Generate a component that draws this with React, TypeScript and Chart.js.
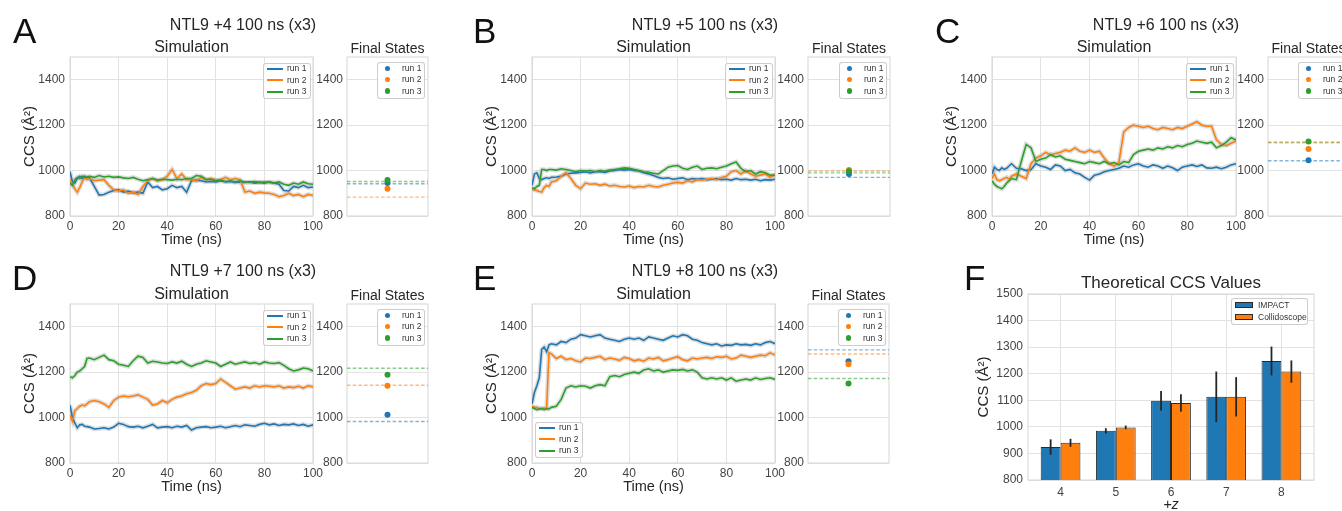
import React, { useEffect, useRef } from 'react';
import { Chart, registerables } from 'chart.js';

Chart.register(...registerables);

const FONT = '"Liberation Sans", Arial, Helvetica, sans-serif';
const TEXT = '#262626';
const TICK = '#444444';
const GRID = '#e2e2e2';
const FRAME = '#d6d6d6';
const RUN_COLORS = ['#1f77b4', '#ff7f0e', '#2ca02c'];
const RUN_LABELS = ['run 1', 'run 2', 'run 3'];

// time grid (ns)
const TIME = [0, 1, 2, 3, 4, 5, 6, 7, 8, 10, 12, 14, 16, 18, 20, 22, 24, 26, 28, 30, 32, 34, 36, 38, 40, 42, 44, 46, 48, 50, 52, 54, 56, 58, 60, 62, 64, 66, 68, 70, 72, 74, 76, 78, 80, 82, 84, 86, 88, 90, 92, 94, 96, 98, 100];

const SIM_X_TICKS = [0, 20, 40, 60, 80, 100];
const CCS_TICKS = [800, 1000, 1200, 1400];
const F_Y_TICKS = [800, 900, 1000, 1100, 1200, 1300, 1400, 1500];

// Panel A: NTL9 +4
const A_RUN1 = [995, 950, 945, 965, 975, 965, 975, 970, 968, 930, 892, 895, 905, 912, 915, 905, 910, 902, 905, 900, 950, 925, 930, 915, 920, 935, 925, 930, 905, 955, 958, 955, 950, 952, 950, 955, 950, 952, 948, 950, 948, 950, 945, 948, 945, 950, 945, 940, 912, 910, 930, 925, 935, 925, 928];
const A_RUN2 = [960, 940, 920, 905, 925, 950, 968, 960, 965, 955, 958, 960, 935, 915, 910, 915, 900, 905, 895, 930, 955, 965, 955, 960, 975, 1005, 965, 985, 960, 960, 955, 970, 960, 965, 958, 960, 970, 960, 965, 960, 905, 910, 900, 905, 902, 900, 895, 885, 890, 900, 890, 895, 885, 895, 890];
const A_RUN3 = [945, 935, 960, 970, 965, 975, 970, 972, 975, 970, 978, 972, 975, 970, 972, 968, 965, 970, 962, 955, 960, 965, 958, 962, 960, 958, 962, 960, 965, 965, 978, 975, 960, 962, 955, 958, 952, 955, 950, 955, 950, 948, 952, 948, 950, 948, 945, 950, 940, 935, 945, 940, 950, 942, 940];
const A_FINAL = [945, 920, 958];
const A_REF = [942, 883, 952];

// Panel B: NTL9 +5
const B_RUN1 = [935, 985, 990, 965, 960, 965, 968, 965, 970, 972, 975, 985, 988, 990, 992, 995, 990, 995, 995, 992, 998, 1000, 1005, 1002, 1005, 1000, 998, 990, 985, 978, 970, 965, 968, 962, 965, 968, 960, 965, 962, 965, 960, 962, 965, 960, 962, 958, 965, 960, 962, 958, 962, 955, 960, 958, 962];
const B_RUN2 = [920, 915, 912, 908, 905, 925, 935, 930, 950, 955, 975, 990, 965, 935, 920, 945, 940, 942, 935, 940, 932, 935, 930, 928, 932, 925, 930, 928, 935, 930, 928, 935, 940, 945, 948, 945, 955, 950, 960, 958, 962, 965, 960, 970, 975, 995, 1000, 985, 1000, 985, 975, 980, 985, 970, 985];
const B_RUN3 = [925, 920, 930, 935, 1005, 1005, 1000, 1005, 1005, 1002, 1008, 1005, 1000, 995, 1000, 998, 1000, 995, 1000, 998, 1002, 1005, 1008, 1012, 1010, 1005, 1000, 995, 992, 988, 985, 1000, 1015, 1020, 1022, 1010, 1005, 1015, 1020, 1005, 1010, 1012, 1008, 1015, 1020, 1030, 1038, 1010, 995, 1000, 985, 995, 990, 980, 978];
const B_FINAL = [985, 1002, 997];
const B_REF = [970, 998, 990];

// Panel C: NTL9 +6
const C_RUN1 = [985, 1015, 1005, 1000, 1012, 1005, 1010, 1020, 1030, 1010, 1008, 1000, 1005, 1030, 1020, 1015, 1005, 1025, 1020, 1000, 1005, 990, 985, 970, 958, 980, 985, 995, 1000, 1005, 1010, 1020, 1015, 1025, 1030, 1020, 1015, 1025, 1020, 1010, 1020, 1012, 1000, 1015, 1020, 1025, 1018, 1025, 1012, 1010, 1015, 1008, 1015, 1025, 1030];
const C_RUN2 = [965, 985, 960, 955, 960, 965, 970, 962, 975, 985, 975, 965, 1030, 1055, 1065, 1080, 1070, 1075, 1080, 1090, 1085, 1100, 1085, 1080, 1090, 1080, 1085, 1055, 1030, 1020, 1035, 1170, 1190, 1200, 1195, 1190, 1195, 1185, 1180, 1190, 1185, 1180, 1190, 1185, 1195, 1205, 1215, 1200, 1195, 1195, 1135, 1115, 1110, 1120, 1130];
const C_RUN3 = [955, 940, 930, 925, 920, 930, 945, 955, 965, 960, 1040, 1115, 1100, 1040, 1050, 1055, 1070, 1060, 1065, 1050, 1045, 1040, 1035, 1030, 1040, 1035, 1030, 1040, 1030, 1035, 1025, 1040, 1035, 1070, 1085, 1090, 1095, 1090, 1100, 1095, 1105, 1100, 1110, 1105, 1115, 1120, 1130, 1125, 1120, 1125, 1100, 1110, 1125, 1145, 1135];
const C_FINAL = [1045, 1095, 1128];
const C_REF = [1043, 1122, 1125];

// Panel D: NTL9 +7
const D_RUN1 = [1055, 1000, 975, 955, 968, 970, 962, 960, 958, 950, 952, 955, 950, 958, 975, 970, 960, 958, 962, 955, 962, 970, 955, 958, 960, 955, 962, 958, 965, 945, 955, 958, 960, 955, 958, 962, 955, 960, 965, 960, 968, 965, 962, 970, 975, 968, 972, 965, 970, 968, 972, 965, 970, 962, 968];
const D_RUN2 = [1010, 985, 1030, 1040, 1050, 1055, 1052, 1060, 1070, 1075, 1070, 1060, 1045, 1075, 1090, 1095, 1092, 1095, 1100, 1090, 1080, 1055, 1060, 1075, 1065, 1080, 1090, 1095, 1105, 1110, 1120, 1140, 1150, 1145, 1150, 1170, 1155, 1140, 1125, 1130, 1135, 1130, 1140, 1135, 1140, 1138, 1135, 1140, 1130, 1135, 1132, 1138, 1130, 1140, 1135];
const D_RUN3 = [1180, 1175, 1185, 1200, 1205, 1215, 1225, 1260, 1262, 1255, 1265, 1275, 1255, 1250, 1235, 1230, 1225, 1250, 1270, 1265, 1240, 1248, 1245, 1240, 1238, 1245, 1240, 1248, 1235, 1225, 1235, 1240, 1250, 1245, 1240, 1225, 1235, 1245, 1235, 1240, 1245, 1238, 1242, 1235, 1245, 1240, 1238, 1242, 1230, 1215, 1205, 1210, 1218, 1215, 1205];
const D_FINAL = [1012, 1140, 1188];
const D_REF = [983, 1142, 1217];

// Panel E: NTL9 +8
const E_RUN1 = [1060, 1110, 1140, 1175, 1300, 1310, 1290, 1320, 1325, 1320, 1335, 1330, 1345, 1350, 1365, 1360, 1355, 1360, 1365, 1350, 1345, 1340, 1335, 1345, 1350, 1345, 1350, 1340, 1355, 1350, 1345, 1340, 1350, 1360, 1355, 1365, 1360, 1345, 1340, 1330, 1325, 1320, 1325, 1315, 1320, 1318, 1325, 1320, 1322, 1318, 1325, 1320, 1330, 1335, 1325];
const E_RUN2 = [1050, 1045, 1045, 1040, 1040, 1042, 1040, 1285, 1280, 1260, 1270, 1255, 1260, 1250, 1245, 1262, 1260, 1265, 1270, 1255, 1262, 1258, 1252, 1265, 1260, 1250, 1255, 1248, 1262, 1258, 1265, 1250, 1255, 1262, 1268, 1255, 1250, 1262, 1258, 1262, 1265, 1260, 1268, 1265, 1270, 1258, 1262, 1275, 1270, 1265, 1270, 1275, 1272, 1285, 1275];
const E_RUN3 = [1045, 1040, 1035, 1038, 1040, 1035, 1040, 1038, 1045, 1050, 1080, 1130, 1140, 1135, 1140, 1138, 1130, 1140, 1145, 1140, 1180, 1185, 1180, 1190, 1195, 1200, 1195, 1210, 1215, 1205, 1210, 1200, 1205, 1210, 1208, 1212, 1205, 1210, 1200, 1175, 1170, 1175, 1170, 1175, 1165, 1175, 1160, 1165, 1170, 1165, 1175, 1168, 1172, 1175, 1168];
const E_FINAL = [1248, 1235, 1150];
const E_REF = [1298, 1280, 1172];

// Panel F: theoretical CCS
const F_CHARGES = [4, 5, 6, 7, 8];
const F_IMPACT = [924, 985, 1098, 1113, 1248];
const F_IMPACT_ERR = [29, 10, 37, 95, 54];
const F_COLLIDO = [940, 998, 1090, 1113, 1208];
const F_COLLIDO_ERR = [15, 7, 33, 74, 42];

type Rect = { l: number; r: number; t: number; b: number };
type Spec = { left: number; top: number; width: number; height: number; make: () => any };

function rgba(hex: string, a: number) {
  const n = parseInt(hex.slice(1), 16);
  return `rgba(${(n >> 16) & 255},${(n >> 8) & 255},${n & 255},${a})`;
}

const framePlugin = {
  id: 'frame',
  beforeDatasetsDraw(chart: any) {
    const { ctx, chartArea } = chart;
    ctx.save();
    ctx.strokeStyle = FRAME;
    ctx.lineWidth = 1;
    ctx.strokeRect(chartArea.left, chartArea.top, chartArea.right - chartArea.left, chartArea.bottom - chartArea.top);
    ctx.restore();
  },
};

const tickFont = { family: FONT, size: 12 };

function fixedTicks(values: number[]) {
  return (s: any) => {
    s.ticks = values.map((v) => ({ value: v }));
  };
}

function simSpec(plot: Rect, runs: number[][]): Spec {
  const yW = 70, padT = 14, xH = 39, padR = 20;
  const width = yW + (plot.r - plot.l) + padR;
  const height = padT + (plot.b - plot.t) + xH;
  const make = () => {
    const datasets: any[] = [];
    runs.forEach((r) => {
      datasets.push({
        data: TIME.map((t, j) => ({ x: t, y: r[j] })),
        borderColor: 'rgba(150,150,150,0.32)',
        borderWidth: 4.5,
        pointRadius: 0,
        order: 10,
      });
    });
    runs.forEach((r, i) => {
      datasets.push({
        label: RUN_LABELS[i],
        data: TIME.map((t, j) => ({ x: t, y: r[j] })),
        borderColor: RUN_COLORS[i],
        borderWidth: 1.6,
        pointRadius: 0,
        order: 3 - i,
      });
    });
    return {
      type: 'line',
      data: { datasets },
      plugins: [framePlugin],
      options: {
        responsive: false,
        animation: false,
        devicePixelRatio: 1,
        layout: { padding: { left: 0, top: padT, right: padR, bottom: 0 } },
        plugins: { legend: { display: false }, tooltip: { enabled: false } },
        elements: { line: { tension: 0 } },
        scales: {
          x: {
            type: 'linear', min: 0, max: 100,
            afterBuildTicks: fixedTicks(SIM_X_TICKS),
            afterFit: (s: any) => { s.height = xH; },
            grid: { color: GRID, drawTicks: false },
            border: { display: false },
            ticks: { color: TICK, font: tickFont, padding: 3, maxRotation: 0, autoSkip: false, callback: (v: any) => String(v) },
            title: { display: true, text: 'Time (ns)', color: TEXT, font: { family: FONT, size: 14.5 }, padding: { top: 0, bottom: 6 } },
          },
          y: {
            type: 'linear', min: 800, max: 1500,
            afterBuildTicks: fixedTicks(CCS_TICKS),
            afterFit: (s: any) => { s.width = yW; },
            grid: { color: GRID, drawTicks: false },
            border: { display: false },
            ticks: { color: TICK, font: tickFont, padding: 5, callback: (v: any) => String(v) },
            title: { display: true, text: 'CCS (Å²)', color: TEXT, font: { family: FONT, size: 15 }, padding: { top: 20.7, bottom: 0 } },
          },
        },
      },
    };
  };
  return { left: plot.l - yW, top: plot.t - padT, width, height, make };
}

function finalSpec(plot: Rect, finals: number[], refs: number[]): Spec {
  const yW = 36, padT = 14, padB = 14, padR = 4;
  const width = yW + (plot.r - plot.l) + padR;
  const height = padT + (plot.b - plot.t) + padB;
  const make = () => {
    const datasets: any[] = [];
    refs.forEach((v, i) => {
      datasets.push({
        data: [{ x: -1, y: v }, { x: 1, y: v }],
        borderColor: rgba(RUN_COLORS[i], 0.55),
        borderWidth: 1.4,
        borderDash: [3.5, 2.2],
        pointRadius: 0,
        order: 10,
      });
    });
    finals.forEach((v, i) => {
      datasets.push({
        label: RUN_LABELS[i],
        data: [{ x: 0, y: v }],
        showLine: false,
        pointRadius: 3,
        pointBorderWidth: 0,
        pointBackgroundColor: RUN_COLORS[i],
        backgroundColor: RUN_COLORS[i],
        order: 3 - i,
      });
    });
    return {
      type: 'line',
      data: { datasets },
      plugins: [framePlugin],
      options: {
        responsive: false,
        animation: false,
        devicePixelRatio: 1,
        layout: { padding: { left: 0, top: padT, right: padR, bottom: padB } },
        plugins: { legend: { display: false }, tooltip: { enabled: false } },
        scales: {
          x: { type: 'linear', min: -1, max: 1, display: false },
          y: {
            type: 'linear', min: 800, max: 1500,
            afterBuildTicks: fixedTicks(CCS_TICKS),
            afterFit: (s: any) => { s.width = yW; },
            grid: { color: GRID, drawTicks: false },
            border: { display: false },
            ticks: { color: TICK, font: tickFont, padding: 4, callback: (v: any) => String(v) },
          },
        },
      },
    };
  };
  return { left: plot.l - yW, top: plot.t - padT, width, height, make };
}

const errorBarPlugin = {
  id: 'errorBars',
  afterDatasetsDraw(chart: any) {
    const { ctx } = chart;
    const y = chart.scales.y;
    const sets = [
      { vals: F_IMPACT, errs: F_IMPACT_ERR },
      { vals: F_COLLIDO, errs: F_COLLIDO_ERR },
    ];
    ctx.save();
    ctx.strokeStyle = '#262626';
    ctx.lineWidth = 1.8;
    sets.forEach((s, di) => {
      const meta = chart.getDatasetMeta(di);
      meta.data.forEach((bar: any, j: number) => {
        ctx.beginPath();
        ctx.moveTo(bar.x, y.getPixelForValue(s.vals[j] - s.errs[j]));
        ctx.lineTo(bar.x, y.getPixelForValue(s.vals[j] + s.errs[j]));
        ctx.stroke();
      });
    });
    ctx.restore();
  },
};

function barSpec(plot: Rect): Spec {
  const yW = 68, padT = 14, xH = 50, padR = 1342 - plot.r;
  const width = yW + (plot.r - plot.l) + padR;
  const height = padT + (plot.b - plot.t) + xH;
  const make = () => ({
    type: 'bar',
    data: {
      datasets: [
        {
          label: 'IMPACT',
          data: F_CHARGES.map((c, i) => ({ x: c, y: F_IMPACT[i] })),
          backgroundColor: '#1f77b4',
          borderColor: '#2a2a2a',
          borderWidth: 1,
          borderSkipped: false,
        },
        {
          label: 'Collidoscope',
          data: F_CHARGES.map((c, i) => ({ x: c, y: F_COLLIDO[i] })),
          backgroundColor: '#ff7f0e',
          borderColor: '#2a2a2a',
          borderWidth: 1,
          borderSkipped: false,
        },
      ],
    },
    plugins: [framePlugin, errorBarPlugin],
    options: {
      responsive: false,
      animation: false,
      devicePixelRatio: 1,
      categoryPercentage: 0.72,
      barPercentage: 1,
      layout: { padding: { left: 0, top: padT, right: padR, bottom: 0 } },
      plugins: { legend: { display: false }, tooltip: { enabled: false } },
      scales: {
        x: {
          type: 'linear', min: 3.41, max: 8.59, offset: false,
          afterBuildTicks: fixedTicks(F_CHARGES),
          afterFit: (s: any) => { s.height = xH; },
          grid: { color: GRID, drawTicks: false, offset: false },
          border: { display: false },
          ticks: { color: TICK, font: tickFont, padding: 5, maxRotation: 0, autoSkip: false, callback: (v: any) => String(v) },
          title: { display: true, text: '+z', color: TEXT, font: { family: FONT, size: 14.5, style: 'italic' }, padding: { top: 0, bottom: 16.6 } },
        },
        y: {
          type: 'linear', min: 800, max: 1500,
          afterBuildTicks: fixedTicks(F_Y_TICKS),
          afterFit: (s: any) => { s.width = yW; },
          grid: { color: GRID, drawTicks: false },
          border: { display: false },
          ticks: { color: TICK, font: tickFont, padding: 5, callback: (v: any) => String(v) },
          title: { display: true, text: 'CCS (Å²)', color: TEXT, font: { family: FONT, size: 15 }, padding: { top: 14.8, bottom: 0 } },
        },
      },
    },
  });
  return { left: plot.l - yW, top: plot.t - padT, width, height, make };
}

function ChartBox({ spec }: { spec: Spec }) {
  const ref = useRef<HTMLCanvasElement>(null);
  useEffect(() => {
    const chart = new Chart(ref.current as HTMLCanvasElement, spec.make());
    return () => chart.destroy();
  }, []);
  return (
    <canvas
      ref={ref}
      width={spec.width}
      height={spec.height}
      style={{ position: 'absolute', left: spec.left, top: spec.top, width: spec.width, height: spec.height }}
    />
  );
}

function Label({ x, baseline, size, text, anchor = 'middle', color = TEXT, italic = false }: any) {
  const top = baseline - 0.8465 * size;
  return (
    <div
      style={{
        position: 'absolute',
        left: x,
        top,
        fontSize: size,
        lineHeight: 1,
        fontFamily: FONT,
        color,
        whiteSpace: 'nowrap',
        fontStyle: italic ? 'italic' : 'normal',
        transform: anchor === 'middle' ? 'translateX(-50%)' : 'none',
      }}
    >
      {text}
    </div>
  );
}

const LEG_FONT = 8.5;

function LegendBox({ left, top, width, height, children }: any) {
  return (
    <div
      style={{
        position: 'absolute', left, top, width, height, boxSizing: 'border-box',
        border: '1px solid rgba(200,200,200,0.9)', borderRadius: 3, background: 'rgba(255,255,255,0.85)',
      }}
    >
      {children}
    </div>
  );
}

function LegendText({ x, cy, text }: any) {
  return (
    <div
      style={{
        position: 'absolute', left: x, top: cy - 4.15, fontSize: LEG_FONT, lineHeight: 1,
        fontFamily: FONT, color: '#333', whiteSpace: 'nowrap',
      }}
    >
      {text}
    </div>
  );
}

function LineLegend({ left, top }: any) {
  return (
    <LegendBox left={left} top={top} width={48} height={36}>
      {RUN_LABELS.map((lab, i) => {
        const cy = 4.5 + 11.5 * i;
        return (
          <React.Fragment key={lab}>
            <div style={{ position: 'absolute', left: 3, top: Math.round(cy - 1), width: 16, height: 2, background: RUN_COLORS[i] }} />
            <LegendText x={23} cy={cy} text={lab} />
          </React.Fragment>
        );
      })}
    </LegendBox>
  );
}

function DotLegend({ left, top }: any) {
  return (
    <LegendBox left={left} top={top} width={48} height={37}>
      {RUN_LABELS.map((lab, i) => {
        const cy = 5.3 + 11.3 * i;
        return (
          <React.Fragment key={lab}>
            <div style={{ position: 'absolute', left: 9.7 - 2.7, top: cy - 2.7, width: 5.4, height: 5.4, borderRadius: '50%', background: RUN_COLORS[i] }} />
            <LegendText x={24} cy={cy} text={lab} />
          </React.Fragment>
        );
      })}
    </LegendBox>
  );
}

function BarLegend({ left, top }: any) {
  const items = [
    { lab: 'IMPACT', color: '#1f77b4' },
    { lab: 'Collidoscope', color: '#ff7f0e' },
  ];
  return (
    <LegendBox left={left} top={top} width={77} height={27}>
      {items.map((it, i) => {
        const cy = 6 + 11.7 * i;
        return (
          <React.Fragment key={it.lab}>
            <div style={{ position: 'absolute', left: 2.5, top: cy - 3, width: 18, height: 6, boxSizing: 'border-box', border: '1px solid #2a2a2a', background: it.color }} />
            <LegendText x={26} cy={cy} text={it.lab} />
          </React.Fragment>
        );
      })}
    </LegendBox>
  );
}

const ROW1 = { t: 57, b: 216 };
const ROW2 = { t: 304, b: 463 };
const A_SIM: Rect = { l: 70, r: 313, ...ROW1 };
const A_FIN: Rect = { l: 347, r: 428, ...ROW1 };
const B_SIM: Rect = { l: 532, r: 775, ...ROW1 };
const B_FIN: Rect = { l: 808, r: 890, ...ROW1 };
const C_SIM: Rect = { l: 992, r: 1236, ...ROW1 };
const C_FIN: Rect = { l: 1268, r: 1349, ...ROW1 };
const D_SIM: Rect = { l: 70, r: 313, ...ROW2 };
const D_FIN: Rect = { l: 347, r: 428, ...ROW2 };
const E_SIM: Rect = { l: 532, r: 775, ...ROW2 };
const E_FIN: Rect = { l: 808, r: 889, ...ROW2 };
const F_PLOT: Rect = { l: 1028, r: 1314, t: 294, b: 480 };

const PANELS = [
  { letter: 'A', lx: 13, title: 'NTL9 +4 100 ns (x3)', tx: 243, row: 1, sim: A_SIM, fin: A_FIN, runs: [A_RUN1, A_RUN2, A_RUN3], finals: A_FINAL, refs: A_REF, legendBottom: false },
  { letter: 'B', lx: 473, title: 'NTL9 +5 100 ns (x3)', tx: 705, row: 1, sim: B_SIM, fin: B_FIN, runs: [B_RUN1, B_RUN2, B_RUN3], finals: B_FINAL, refs: B_REF, legendBottom: false },
  { letter: 'C', lx: 935, title: 'NTL9 +6 100 ns (x3)', tx: 1166, row: 1, sim: C_SIM, fin: C_FIN, runs: [C_RUN1, C_RUN2, C_RUN3], finals: C_FINAL, refs: C_REF, legendBottom: false },
  { letter: 'D', lx: 12, title: 'NTL9 +7 100 ns (x3)', tx: 243, row: 2, sim: D_SIM, fin: D_FIN, runs: [D_RUN1, D_RUN2, D_RUN3], finals: D_FINAL, refs: D_REF, legendBottom: false },
  { letter: 'E', lx: 473, title: 'NTL9 +8 100 ns (x3)', tx: 705, row: 2, sim: E_SIM, fin: E_FIN, runs: [E_RUN1, E_RUN2, E_RUN3], finals: E_FINAL, refs: E_REF, legendBottom: true },
];

export default function App() {
  const rowBase = (row: number) =>
    row === 1 ? { letter: 43, title: 31, sub: 53 } : { letter: 290, title: 277, sub: 300 };
  return (
    <div style={{ position: 'fixed', left: 0, top: 0, width: 1342, height: 511, overflow: 'hidden', background: '#fff', fontFamily: FONT }}>
      {PANELS.map((p) => {
        const rb = rowBase(p.row);
        return (
          <React.Fragment key={p.letter}>
            <ChartBox spec={simSpec(p.sim, p.runs)} />
            <ChartBox spec={finalSpec(p.fin, p.finals, p.refs)} />
            <Label x={p.lx} baseline={rb.letter} size={35} text={p.letter} anchor="start" color="#111" />
            <Label x={p.tx} baseline={rb.title} size={16} text={p.title} />
            <Label x={(p.sim.l + p.sim.r) / 2} baseline={rb.sub} size={16} text="Simulation" />
            <Label x={(p.fin.l + p.fin.r) / 2} baseline={rb.sub} size={14} text="Final States" />
            {p.legendBottom ? (
              <LineLegend left={p.sim.l + 3} top={p.sim.b - 5 - 36} />
            ) : (
              <LineLegend left={p.sim.r - 2 - 48} top={p.sim.t + 6} />
            )}
            <DotLegend left={p.fin.r - 3 - 48} top={p.fin.t + 5} />
          </React.Fragment>
        );
      })}
      <ChartBox spec={barSpec(F_PLOT)} />
      <Label x={964} baseline={290} size={35} text="F" anchor="start" color="#111" />
      <Label x={1171} baseline={288} size={17} text="Theoretical CCS Values" />
      <BarLegend left={1231} top={298} />
    </div>
  );
}
